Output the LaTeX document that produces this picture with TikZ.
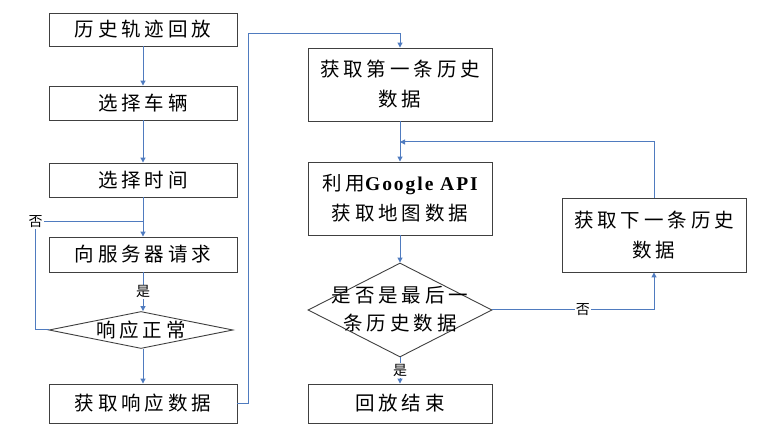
\documentclass[tikz,border=0pt]{standalone}
\usepackage{fontspec}
\setmainfont{Liberation Serif}
\newfontfamily\cjk[LetterSpace=20]{Noto Sans CJK SC}
\newfontfamily\lbl{Noto Sans CJK SC}
\newfontfamily\gfont[LetterSpace=10]{Liberation Serif}
\usetikzlibrary{arrows.meta,shapes.geometric,calc}
\definecolor{conn}{HTML}{4F7BBF}
\definecolor{edge}{HTML}{404040}
\tikzset{
  box/.style={draw=edge,line width=0.9pt,rectangle,minimum width=188pt,inner sep=0pt,
    font=\cjk\fontsize{19.5}{30}\selectfont,align=center,text=black},
  dia/.style={draw=edge,line width=0.9pt,diamond,inner sep=0pt,minimum width=184pt},
  dtxt/.style={font=\cjk\fontsize{19.5}{28}\selectfont,align=center,inner sep=0pt},
  arr/.style={draw=conn,line width=1pt,-{Triangle[length=5pt,width=5pt]}},
  ln/.style={draw=conn,line width=1pt},
  yn/.style={font=\lbl\fontsize{14}{14}\selectfont,fill=white,inner sep=1pt}
}
\begin{document}
\begin{tikzpicture}[x=1pt,y=-1pt]
\useasboundingbox (0,0) rectangle (763,435);
% left column
\node[box,minimum height=33pt] (b1) at (143,29.5) {历史轨迹回放};
\node[box,minimum height=34pt] (b2) at (143,103) {选择车辆};
\node[box,minimum height=34pt] (b3) at (143,180) {选择时间};
\node[box,minimum height=35pt] (b4) at (143,254.5) {向服务器请求};
\node[dia,minimum height=37pt] (d1) at (141,330) {};
\node[dtxt] (d1t) at (141,330) {响应正常};
\node[box,minimum height=39pt] (b5) at (143,403.5) {获取响应数据};
% middle column
\node[box,minimum width=184pt,minimum height=73pt] (b6) at (400,84.5) {获取第一条历史\\数据};
\node[box,minimum width=184pt,minimum height=73pt] (b7) at (400,198.5) {利用{\gfont\bfseries Google API}\\获取地图数据};
\node[dia,minimum height=94pt] (d2) at (400,310) {};
\node[dtxt] (d2t) at (400,309) {是否是最后一\\条历史数据};
\node[box,minimum width=184pt,minimum height=39pt] (b9) at (400,403.5) {回放结束};
% right column
\node[box,minimum width=184pt,minimum height=74pt] (b10) at (654,235) {获取下一条历史\\数据};
% coordinates
\coordinate (j1) at (143,222);
\coordinate (c1) at (248,34);
\coordinate (j2) at (400,142);
% connectors
\draw[arr] (b1) -- (b2);
\draw[arr] (b2) -- (b3);
\draw[arr] (b3) -- (b4);
\draw[arr] (b4) -- (d1.north -| b4.south) node[yn,pos=0.5] (l1) {是};
\draw[arr] (d1.south -| b5.north) -- (b5);
\draw[ln] (d1.west) -- ++(-13,0) coordinate (c0) |- (j1);
\node[yn] (l2) at (c0 |- j1) {否};
\draw[arr] (b5.east) -| (c1) -| (b6.north);
\draw[arr] (b6) -- (b7);
\draw[arr] (b7) -- (d2);
\draw[arr] (d2) -- (b9) node[yn,pos=0.5] (l3) {是};
\draw[arr] (d2.east) -| (b10.south) node[yn,pos=0.28] (l4) {否};
\draw[arr] (b10.north) |- (j2);
\end{tikzpicture}
\end{document}
